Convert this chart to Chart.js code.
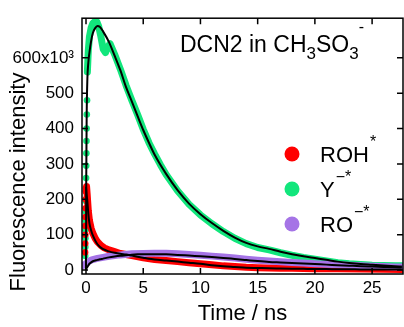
<!DOCTYPE html>
<html>
<head>
<meta charset="utf-8">
<script src="https://cdn.jsdelivr.net/npm/chart.js@4.4.0/dist/chart.umd.min.js"></script>
<style>
  html, body { margin: 0; padding: 0; background: #fff; }
  #wrap { width: 404px; height: 327px; }
</style>
</head>
<body>
<div id="wrap"><canvas id="chart" width="404" height="327"></canvas></div>
<script>
// Axis ticks
const xTicks = [0, 5, 10, 15, 20, 25];
const yTicks = [0, 100, 200, 300, 400, 500, 600];   // x10^3

// Legend entries
const seriesNames = ['ROH', 'Y', 'RO'];
const seriesSup = ['*', '\u2212*', '\u2212*'];
const seriesColors = ['#ff0000', '#12e67c', '#a574e6'];

// Fitted curves (time in ns, intensity in 10^3)
const fitTime = [0, 0.02, 0.06, 0.12, 0.2, 0.3, 0.45, 0.6, 0.8, 1.0, 1.2, 1.5, 2, 2.5, 3, 3.5, 4, 4.5, 5, 5.5,
  6, 7, 8, 9, 10, 11, 12, 13, 14, 15, 16, 17, 18, 19, 20, 21, 22, 23, 24, 25, 26, 27, 27.6];
const fitY = [0, 250, 437, 540, 585, 615, 648, 670, 684, 690, 688, 674, 645, 606, 565, 517, 477, 436, 396, 360,
  326, 272, 226, 188, 158, 133, 111, 92, 77, 67, 60, 52, 45, 39, 34, 29, 24, 20, 17, 15, 13, 11, 10];
const fitROH = [235, 228, 212, 194, 160, 132, 112, 98, 84, 73, 66, 59, 53, 49, 46, 44, 41, 38, 35, 32,
  30, 27, 24, 21, 18, 14, 11, 9, 7, 6, 5, 4.5, 4, 3.5, 3, 3, 2.5, 2.5, 2, 2, 2, 2, 2];
const fitRO = [3, 4, 6, 9, 13, 18, 22, 25, 27, 29, 30.5, 32.5, 36, 38.5, 40.5, 42, 43.5, 44.5, 45, 45,
  45, 44.5, 43, 41, 39, 37, 34.5, 31.5, 28.5, 25.5, 23, 21.5, 20, 18.5, 17, 15.5, 14, 12.5, 11, 10, 9, 8, 7.5];

// Measured data: Y-*
const yRiseTime = [-0.07, -0.06, -0.05, -0.04, -0.03, -0.02, -0.01, 0, 0.01, 0.02, 0.03, 0.04, 0.05, 0.07, 0.09];
const yRise = [40, 65, 90, 115, 140, 165, 195, 225, 260, 295, 330, 365, 400, 440, 480];
const yTime = [0.12, 0.2, 0.3, 0.45, 0.6, 0.8, 0.95, 1.1, 1.3, 1.5, 1.7, 1.9, 2.1, 2.5, 3, 3.5, 4, 4.5, 5, 5.5,
  6, 6.5, 7, 8, 9, 10, 11, 12, 13, 14, 15, 16, 17, 18, 19, 20, 21, 22, 23, 24, 25, 26, 27, 27.6];
const yData = [560, 620, 660, 685, 698, 703, 702, 690, 660, 625, 615, 630, 640, 610, 568, 522, 480, 440, 398, 360,
  328, 298, 270, 224, 186, 156, 131, 109, 90, 75, 64, 57, 49, 42, 36, 31, 26, 21, 18, 16, 14, 13, 12, 12];

// Measured data: ROH*
const rohRiseTime = [-0.08, -0.07, -0.06, -0.05, -0.04, -0.03, -0.02, -0.01];
const rohRise = [50, 75, 100, 125, 150, 175, 200, 222];
const rohTime = [0, 0.05, 0.1, 0.2, 0.3, 0.45, 0.6, 0.8, 1.0, 1.3, 1.6, 2, 2.5, 3, 3.5, 4, 5, 6, 7, 8,
  9, 10, 11, 12, 13, 14, 15, 16, 17, 18, 19, 20, 22, 24, 26, 27.6];
const rohData = [232, 236, 215, 168, 140, 118, 104, 90, 80, 70, 63, 57, 52, 47, 44, 41, 35, 30, 27, 24,
  21, 18, 15, 12, 10, 8, 7, 6, 5.5, 5, 4.5, 4, 3.5, 3, 2.5, 2];

// Measured data: RO-*
const roTime = [-0.3, -0.15, 0, 0.2, 0.5, 1, 1.5, 2, 3, 4, 5, 6, 7, 8, 9, 10, 11, 12, 13, 14,
  15, 16, 17, 18, 19, 20, 21, 22, 23, 24, 25, 26, 27, 27.6];
const roData = [12, 15, 18, 24, 29, 33, 36, 39, 43, 46, 47, 48, 47.5, 46, 44, 42, 39.5, 37, 34, 31,
  28, 25.5, 23.5, 21.5, 20, 18, 16.5, 15, 13.5, 12, 11, 10, 9, 8.5];

const FONT = '"Liberation Sans", Arial, sans-serif';

function pts(xs, ys) {
    return xs.map((x, i) => ({ x: x, y: ys[i] }));
}

function bandSet(label, xs, ys, color) {
    return {
        label: label, data: pts(xs, ys), borderColor: color, backgroundColor: color,
        borderWidth: 7, borderCapStyle: 'round', borderJoinStyle: 'round',
        pointRadius: 0, showLine: true, order: 2, clip: 0
    };
}

function dotSet(label, xs, ys, color) {
    return {
        label: label, data: pts(xs, ys), showLine: false, pointRadius: 3.3,
        pointBorderWidth: 0, pointBackgroundColor: color, order: 2, clip: 0
    };
}

function fitSet(label, ys) {
    return {
        label: label, data: pts(fitTime, ys), borderColor: '#000', borderWidth: 2,
        pointRadius: 0, showLine: true, cubicInterpolationMode: 'monotone', order: 1, clip: 0
    };
}

// Frame, inward ticks, title, legend and y label
const decorations = {
    id: 'decorations',
    afterDraw(chart) {
        const ctx = chart.ctx;
        const a = chart.chartArea;
        const xs = chart.scales.x, ys = chart.scales.y;
        ctx.save();
        ctx.strokeStyle = '#000';
        ctx.lineWidth = 1.5;
        ctx.strokeRect(a.left, a.top, a.right - a.left, a.bottom - a.top);
        ctx.beginPath();
        xTicks.forEach(v => {
            const px = xs.getPixelForValue(v);
            ctx.moveTo(px, a.bottom); ctx.lineTo(px, a.bottom - 6);
            ctx.moveTo(px, a.top); ctx.lineTo(px, a.top + 6);
        });
        yTicks.forEach(v => {
            const py = ys.getPixelForValue(v);
            ctx.moveTo(a.left, py); ctx.lineTo(a.left + 6, py);
            ctx.moveTo(a.right, py); ctx.lineTo(a.right - 6, py);
        });
        ctx.stroke();

        ctx.fillStyle = '#000';
        ctx.textBaseline = 'alphabetic';
        ctx.textAlign = 'left';

        // title: DCN2 in CH3SO3-
        let x = 180;
        const base = 52;
        const parts = [
            ['DCN2 in CH', 23, 0], ['3', 17, 7], ['SO', 23, 0], ['3', 17, 7], ['-', 16, -20]
        ];
        parts.forEach(p => {
            ctx.font = p[1] + 'px ' + FONT;
            ctx.fillText(p[0], x, base + p[2]);
            if (p[0] !== '-') x += ctx.measureText(p[0]).width;
        });

        // legend
        const rows = [162, 197, 232];
        seriesNames.forEach((name, i) => {
            ctx.fillStyle = seriesColors[i];
            ctx.beginPath();
            ctx.arc(292, rows[i] - 8, 7.5, 0, Math.PI * 2);
            ctx.fill();
            ctx.fillStyle = '#000';
            ctx.font = '22px ' + FONT;
            ctx.fillText(name, 320, rows[i]);
            const w = ctx.measureText(name).width;
            ctx.font = '16px ' + FONT;
            ctx.fillText(seriesSup[i], 320 + w + 1, rows[i] - 15);
        });

        // y axis title
        ctx.translate(25, 182);
        ctx.rotate(-Math.PI / 2);
        ctx.textAlign = 'center';
        ctx.font = '22px ' + FONT;
        ctx.fillText('Fluorescence intensity', 0, 0);
        ctx.restore();
    }
};

new Chart(document.getElementById('chart').getContext('2d'), {
    type: 'scatter',
    data: {
        datasets: [
            fitSet('fit ROH', fitROH),
            fitSet('fit Y', fitY),
            fitSet('fit RO', fitRO),
            bandSet('RO', roTime, roData, seriesColors[2]),
            bandSet('ROH', rohTime, rohData, seriesColors[0]),
            dotSet('ROH rise', rohRiseTime, rohRise, seriesColors[0]),
            bandSet('Y', yTime, yData, seriesColors[1]),
            dotSet('Y rise', yRiseTime, yRise, seriesColors[1])
        ]
    },
    options: {
        responsive: false,
        animation: false,
        layout: { autoPadding: false, padding: { top: 16, right: 1, left: 0, bottom: 0 } },
        plugins: { legend: { display: false }, tooltip: { enabled: false } },
        scales: {
            x: {
                type: 'linear', min: -0.35, max: 27.7,
                grid: { display: false, drawTicks: false },
                border: { display: false },
                afterBuildTicks: s => { s.ticks = xTicks.map(v => ({ value: v })); },
                afterFit: s => { s.height = 53; },
                ticks: { color: '#000', padding: 4, maxRotation: 0, font: { family: FONT, size: 17 } },
                title: { display: true, text: 'Time / ns', color: '#000', padding: { top: 2, bottom: 0 },
                    font: { family: FONT, size: 22 } }
            },
            y: {
                type: 'linear', min: -11, max: 712,
                grid: { display: false, drawTicks: false },
                border: { display: false },
                afterBuildTicks: s => { s.ticks = yTicks.map(v => ({ value: v })); },
                afterFit: s => { s.width = 82; },
                ticks: { color: '#000', padding: 8, font: { family: FONT, size: 17 },
                    callback: v => v === 600 ? '600x10\u00b3' : String(v) }
            }
        }
    },
    plugins: [decorations]
});
</script>
</body>
</html>
